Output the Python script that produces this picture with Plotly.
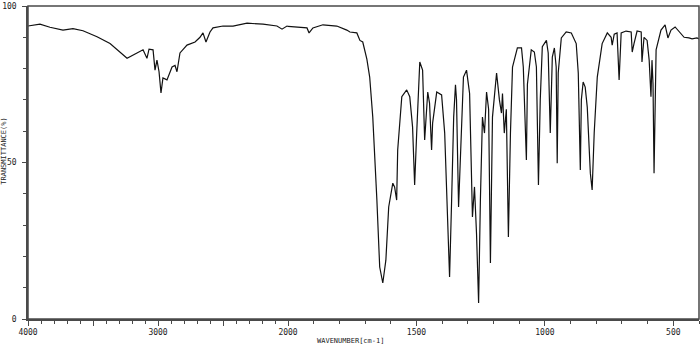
import plotly.graph_objects as go

# ---- spectrum values (wavenumber cm-1, transmittance %) ----
wn_high = [4000, 3908, 3831, 3731, 3654, 3577, 3469, 3369, 3238, 3162, 3115, 3085, 3069,
           3038, 3023, 3008, 2992, 2977, 2962, 2931, 2892, 2869, 2854, 2831, 2777, 2715,
           2677, 2654, 2631, 2600, 2577, 2500, 2423, 2315, 2192, 2085, 2046, 2008, 2000]
tr_high = [93.6, 94.2, 93.2, 92.3, 92.8, 92.1, 90.2, 88.0, 83.3, 85.0, 86.0, 83.3, 86.2,
           86.0, 79.5, 82.7, 79.0, 72.2, 77.0, 76.4, 80.5, 81.0, 79.0, 85.0, 87.5, 88.5,
           90.0, 91.4, 88.5, 91.7, 93.0, 93.6, 93.6, 94.5, 94.2, 93.6, 92.6, 93.6, 93.5]

wn_low = [2000, 1965, 1926, 1918, 1903, 1864, 1810, 1771, 1759, 1732, 1720, 1709, 1701,
          1693, 1682, 1670, 1654, 1643, 1631, 1619, 1608, 1592, 1585, 1577, 1573, 1557,
          1538, 1526, 1515, 1507, 1499, 1487, 1476, 1468, 1456, 1449, 1441, 1437, 1421,
          1402, 1390, 1379, 1371, 1363, 1355, 1348, 1344, 1336, 1328, 1317, 1305, 1293,
          1282, 1274, 1266, 1258, 1251, 1243, 1235, 1227, 1219, 1212, 1204, 1188, 1177,
          1169, 1165, 1158, 1150, 1142, 1134, 1126, 1107, 1091, 1084, 1072, 1068, 1053,
          1041, 1033, 1025, 1018, 1010, 994, 987, 979, 971, 963, 956, 952, 948, 936,
          917, 897, 878, 870, 862, 858, 851, 843, 835, 827, 823, 816, 808, 796, 777,
          757, 742, 738, 730, 719, 711, 703, 684, 664, 660, 653, 641, 625, 622, 614,
          602, 594, 587, 583, 579, 575, 567, 548, 532, 521, 509, 493, 478, 458, 439,
          427, 408, 400]
tr_low = [93.5, 93.3, 93.0, 91.4, 93.0, 94.0, 93.6, 92.3, 91.7, 91.4, 89.0, 88.5, 86.0,
          83.0, 77.3, 64.5, 38.0, 16.6, 11.5, 18.8, 35.8, 43.4, 42.2, 38.0, 54.0, 71.0,
          73.2, 71.0, 61.3, 42.8, 59.4, 82.1, 79.5, 57.2, 72.5, 69.0, 54.0, 62.6, 72.5,
          71.6, 59.4, 35.8, 13.4, 38.0, 64.5, 74.8, 70.0, 35.8, 54.0, 77.3, 79.5, 72.0,
          32.6, 42.2, 27.0, 5.1, 38.0, 64.5, 59.4, 72.5, 67.0, 17.9, 64.5, 78.6, 70.0,
          65.8, 72.0, 59.4, 67.0, 26.2, 59.4, 80.5, 86.6, 86.6, 80.5, 50.8, 75.0, 86.0,
          85.3, 80.5, 42.8, 70.0, 87.0, 89.0, 85.0, 59.4, 83.7, 86.6, 80.5, 49.8, 78.6, 89.8,
          91.7, 91.4, 88.0, 78.6, 47.6, 70.0, 75.7, 74.1, 67.7, 54.0, 46.6, 41.2, 59.4, 77.3, 88.0,
          91.4, 90.0, 87.5, 91.0, 91.4, 76.4, 91.4, 92.0, 91.7, 85.3, 88.0, 92.0, 91.7, 82.1, 90.0,
          89.0, 82.7, 71.0, 82.7, 75.0, 46.6, 86.0, 92.3, 94.0, 89.8, 92.3, 93.3, 92.0, 90.0, 89.8,
          89.5, 89.8, 89.5]

y_ticks = [0, 50, 100]
y_tick_text = ["0", "50", "100"]
x_ticks_high = [4000, 3500, 3000, 2500]
x_tick_text_high = ["4000", "", "3000", ""]
x_ticks_low = [2000, 1500, 1000, 500]
x_tick_text_low = ["2000", "1500", "1000", "500"]

AX = "#4a4a4a"
FONT = dict(family="DejaVu Sans Mono", size=8, color="#222222")

fig = go.Figure()
fig.add_trace(go.Scatter(x=wn_high, y=tr_high, mode="lines", xaxis="x", yaxis="y",
                         line=dict(color="#111111", width=1.2), showlegend=False,
                         hoverinfo="skip"))
fig.add_trace(go.Scatter(x=wn_low, y=tr_low, mode="lines", xaxis="x2", yaxis="y",
                         line=dict(color="#111111", width=1.2), showlegend=False,
                         hoverinfo="skip"))

split = 260 / 671.0
common_x = dict(showgrid=False, zeroline=False, showline=True, linecolor=AX, linewidth=1.5,
                ticks="outside", ticklen=5, tickcolor=AX, tickwidth=1.2, tickfont=FONT,
                minor=dict(dtick=100, ticks="outside", ticklen=3, tickcolor=AX, tickwidth=1),
                ticklabelstandoff=0, automargin=False)

fig.update_layout(
    width=700, height=352,
    margin=dict(l=28, r=1, t=6, b=33),
    paper_bgcolor="white", plot_bgcolor="white",
    xaxis=dict(domain=[0, split], range=[4000, 2000], anchor="y",
               tickmode="array", tickvals=x_ticks_high, ticktext=x_tick_text_high,
               **common_x),
    xaxis2=dict(domain=[split, 1], range=[2000, 400], anchor="y",
                tickmode="array", tickvals=x_ticks_low, ticktext=x_tick_text_low,
                **common_x),
    yaxis=dict(range=[0, 100], showgrid=False, zeroline=False, showline=True,
               linecolor=AX, linewidth=1.5, ticks="outside", ticklen=4, tickcolor=AX,
               tickmode="array", tickvals=y_ticks, ticktext=y_tick_text, tickfont=FONT,
               minor=dict(dtick=10, ticks="outside", ticklen=3, tickcolor=AX),
               ticklabelstandoff=4, automargin=False),
    shapes=[dict(type="rect", xref="paper", yref="paper", x0=0, x1=1, y0=0, y1=1,
                 line=dict(color=AX, width=1.5), fillcolor="rgba(0,0,0,0)", layer="above")],
    annotations=[
        dict(text="WAVENUMBER[cm-1]", xref="paper", yref="paper", x=0.481, y=-0.070,
             showarrow=False, xanchor="center", yanchor="middle",
             font=dict(family="DejaVu Sans Mono", size=7, color="#222222")),
        dict(text="TRANSMITTANCE(%)", xref="paper", yref="paper", x=-0.036, y=0.537,
             showarrow=False, xanchor="center", yanchor="middle", textangle=-90,
             font=dict(family="DejaVu Sans Mono", size=7, color="#222222")),
    ],
)

fig.write_html("out.html", config={"displayModeBar": False},
               post_script="document.body.style.margin='0';document.body.style.padding='0';")
